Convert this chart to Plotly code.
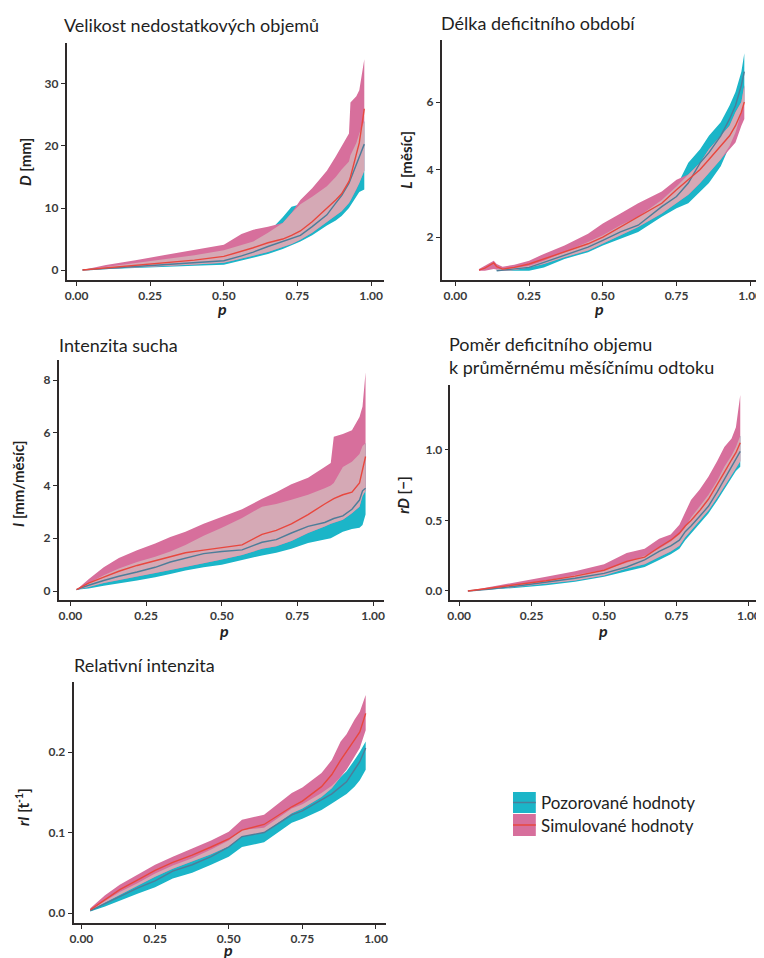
import numpy as np
import plotly.graph_objects as go

nan = np.nan

# ---------------- data ----------------
# Panel 1: D [mm]
p1 = [0.02, 0.1, 0.2, 0.3, 0.4, 0.5, 0.56, 0.6, 0.65, 0.7, 0.73, 0.76, 0.8, 0.85, 0.88, 0.9, 0.925, 0.93, 0.95, 0.96, 0.977]
d_sim_hi = [0.0, 0.8, 1.6, 2.4, 3.2, 4.1, 5.8, 6.5, 7.0, 7.6, 9.2, 11.3, 13.2, 16.0, 18.3, 19.9, 22.0, 27.0, 28.0, 29.0, 34.0]
d_sim_lo = [0.0, 0.15, 0.4, 0.65, 0.9, 1.2, 1.9, 2.3, 2.9, 3.7, 4.2, 4.9, 6.0, 7.8, 8.8, 9.5, 10.8, 11.2, 13.0, 14.0, 16.0]
d_sim_med = [0.0, 0.35, 0.8, 1.2, 1.6, 2.2, 3.0, 3.6, 4.4, 5.0, 5.6, 6.3, 7.8, 9.9, 11.3, 12.3, 14.3, 15.0, 18.5, 20.5, 26.0]
d_obs_hi = [0.0, 0.5, 1.1, 1.7, 2.4, 3.2, 4.0, 4.6, 6.0, 8.5, 10.2, 10.6, 11.8, 13.5, 15.0, 16.2, 17.5, 18.5, 20.5, 22.0, 24.0]
d_obs_lo = [0.0, 0.1, 0.3, 0.5, 0.7, 0.85, 1.5, 2.0, 2.6, 3.4, 4.0, 4.6, 5.6, 7.2, 8.0, 8.7, 10.0, 10.3, 11.8, 12.6, 13.0]
d_obs_med = [0.0, 0.25, 0.6, 0.9, 1.2, 1.5, 2.3, 2.9, 3.8, 4.6, 5.1, 5.6, 7.0, 8.9, 10.8, 12.0, 14.0, 14.6, 16.8, 18.0, 20.3]

# Panel 2: L [month]
p2 = [0.08, 0.1, 0.13, 0.14, 0.16, 0.2, 0.25, 0.3, 0.37, 0.45, 0.5, 0.56, 0.62, 0.7, 0.75, 0.79, 0.83, 0.86, 0.9, 0.93, 0.95, 0.97, 0.98]
l_sim_hi = [1.05, 1.15, 1.3, 1.2, 1.12, 1.18, 1.3, 1.5, 1.75, 2.1, 2.4, 2.7, 3.0, 3.35, 3.7, 3.85, 4.2, 4.6, 5.0, 5.3, 5.7, 6.0, 6.5]
l_sim_lo = [1.0, 1.0, 1.05, 1.02, 1.0, 1.02, 1.1, 1.2, 1.4, 1.6, 1.8, 2.05, 2.3, 2.7, 3.0, 3.25, 3.6, 3.9, 4.3, 4.6, 4.8, 5.3, 5.5]
l_sim_med = [1.02, 1.08, 1.23, 1.12, 1.05, 1.1, 1.2, 1.35, 1.55, 1.8, 2.0, 2.3, 2.6, 3.0, 3.4, 3.7, 4.0, 4.3, 4.7, 5.0, 5.3, 5.7, 6.0]
l_obs_hi = [nan, nan, nan, 1.05, 1.05, 1.08, 1.15, 1.3, 1.55, 1.85, 2.05, 2.35, 2.6, 3.1, 3.5, 4.2, 4.6, 5.0, 5.4, 5.9, 6.3, 6.9, 7.45]
l_obs_lo = [nan, nan, nan, 1.0, 1.0, 1.0, 1.0, 1.1, 1.35, 1.55, 1.75, 1.95, 2.15, 2.6, 2.85, 3.0, 3.35, 3.6, 4.1, 4.7, 5.1, 5.7, 6.0]
l_obs_med = [nan, nan, nan, 1.0, 1.02, 1.05, 1.1, 1.25, 1.45, 1.7, 1.9, 2.15, 2.35, 2.9, 3.2, 3.6, 4.2, 4.5, 5.0, 5.5, 5.9, 6.5, 6.9]

# Panel 3: I [mm/month]
p3 = [0.02, 0.06, 0.11, 0.16, 0.22, 0.28, 0.33, 0.38, 0.44, 0.5, 0.567, 0.633, 0.68, 0.73, 0.785, 0.84, 0.86, 0.87, 0.9, 0.93, 0.955, 0.965, 0.975]
i_sim_hi = [0.05, 0.45, 0.9, 1.25, 1.55, 1.8, 2.05, 2.25, 2.55, 2.8, 3.1, 3.5, 3.75, 4.05, 4.3, 4.7, 4.85, 5.85, 5.95, 6.1, 6.6, 7.0, 8.3]
i_sim_lo = [0.05, 0.15, 0.3, 0.42, 0.55, 0.68, 0.8, 0.92, 1.05, 1.2, 1.37, 1.6, 1.7, 1.9, 2.2, 2.45, 2.55, 2.6, 2.7, 2.95, 3.2, 3.6, 3.8]
i_sim_med = [0.05, 0.3, 0.53, 0.75, 0.97, 1.15, 1.3, 1.45, 1.55, 1.65, 1.75, 2.15, 2.3, 2.55, 2.9, 3.3, 3.45, 3.5, 3.65, 3.75, 4.1, 4.6, 5.1]
i_obs_hi = [0.05, 0.3, 0.6, 0.85, 1.1, 1.3, 1.5, 1.75, 2.1, 2.4, 2.77, 3.2, 3.3, 3.46, 3.65, 3.9, 4.0, 4.1, 4.7, 4.9, 5.2, 5.5, 5.6]
i_obs_lo = [0.05, 0.1, 0.2, 0.3, 0.4, 0.52, 0.65, 0.78, 0.9, 1.0, 1.18, 1.35, 1.45, 1.6, 1.82, 1.95, 2.0, 2.05, 2.25, 2.35, 2.4, 2.5, 2.9]
i_obs_med = [0.05, 0.22, 0.4, 0.56, 0.72, 0.9, 1.1, 1.25, 1.42, 1.5, 1.56, 1.85, 1.95, 2.2, 2.45, 2.6, 2.7, 2.75, 2.85, 3.1, 3.45, 3.8, 3.9]

# Panel 4: rD [-]
p4 = [0.03, 0.1, 0.2, 0.3, 0.4, 0.5, 0.578, 0.64, 0.69, 0.73, 0.76, 0.78, 0.8, 0.83, 0.86, 0.89, 0.915, 0.94, 0.955, 0.97]
rd_sim_hi = [0.0, 0.025, 0.06, 0.1, 0.14, 0.19, 0.27, 0.3, 0.37, 0.4, 0.47, 0.56, 0.645, 0.72, 0.81, 0.92, 1.02, 1.08, 1.16, 1.39]
rd_sim_lo = [0.0, 0.01, 0.03, 0.05, 0.075, 0.11, 0.16, 0.19, 0.24, 0.28, 0.32, 0.38, 0.43, 0.5, 0.57, 0.66, 0.74, 0.82, 0.87, 0.92]
rd_sim_med = [0.0, 0.018, 0.045, 0.072, 0.105, 0.147, 0.21, 0.24, 0.31, 0.36, 0.41, 0.46, 0.5, 0.57, 0.65, 0.75, 0.84, 0.93, 0.98, 1.05]
rd_obs_hi = [0.0, 0.018, 0.045, 0.075, 0.11, 0.15, 0.2, 0.25, 0.3, 0.35, 0.4, 0.45, 0.52, 0.6, 0.68, 0.78, 0.88, 0.96, 1.02, 1.1]
rd_obs_lo = [0.0, 0.008, 0.022, 0.04, 0.065, 0.1, 0.14, 0.17, 0.22, 0.26, 0.3, 0.36, 0.41, 0.48, 0.55, 0.64, 0.72, 0.8, 0.85, 0.88]
rd_obs_med = [0.0, 0.012, 0.035, 0.06, 0.09, 0.125, 0.17, 0.22, 0.28, 0.32, 0.36, 0.42, 0.46, 0.53, 0.6, 0.7, 0.79, 0.88, 0.94, 0.99]

# Panel 5: rI [t^-1]
p5 = [0.03, 0.08, 0.13, 0.19, 0.25, 0.31, 0.376, 0.44, 0.5, 0.545, 0.62, 0.714, 0.75, 0.815, 0.85, 0.88, 0.9, 0.927, 0.945, 0.965]
ri_sim_hi = [0.006, 0.022, 0.035, 0.048, 0.06, 0.07, 0.08, 0.09, 0.101, 0.116, 0.122, 0.149, 0.156, 0.174, 0.19, 0.213, 0.222, 0.24, 0.25, 0.271]
ri_sim_lo = [0.003, 0.013, 0.023, 0.034, 0.045, 0.055, 0.064, 0.073, 0.083, 0.095, 0.1, 0.124, 0.13, 0.144, 0.155, 0.169, 0.178, 0.194, 0.205, 0.227]
ri_sim_med = [0.004, 0.017, 0.029, 0.041, 0.053, 0.063, 0.072, 0.082, 0.092, 0.103, 0.11, 0.132, 0.139, 0.157, 0.172, 0.19, 0.2, 0.215, 0.225, 0.248]
ri_obs_hi = [0.004, 0.015, 0.026, 0.037, 0.049, 0.059, 0.068, 0.079, 0.09, 0.103, 0.106, 0.13, 0.135, 0.149, 0.158, 0.169, 0.176, 0.19, 0.2, 0.213]
ri_obs_lo = [0.002, 0.008, 0.015, 0.024, 0.032, 0.043, 0.05, 0.06, 0.07, 0.082, 0.088, 0.112, 0.117, 0.128, 0.136, 0.143, 0.148, 0.157, 0.165, 0.178]
ri_obs_med = [0.003, 0.012, 0.021, 0.031, 0.04, 0.052, 0.06, 0.07, 0.082, 0.095, 0.1, 0.122, 0.127, 0.14, 0.148, 0.157, 0.163, 0.178, 0.188, 0.205]

titles = ["Velikost nedostatkových objemů", "Délka deficitního období", "Intenzita sucha",
          "Poměr deficitního objemu<br>k průměrnému měsíčnímu odtoku", "Relativní intenzita"]
ylabels = ["<i>D</i> [mm]", "<i>L</i> [měsíc]", "<i>I</i> [mm/měsíc]", "<i>rD</i> [−]", "<i>rI</i> [t<sup>-1</sup>]"]
xlabel = "<i>p</i>"
x_ticks = [0.0, 0.25, 0.5, 0.75, 1.0]
y_ticks = [[0, 10, 20, 30], [2, 4, 6], [0, 2, 4, 6, 8], [0.0, 0.5, 1.0], [0.0, 0.1, 0.2]]
legend_names = ["Pozorované hodnoty", "Simulované hodnoty"]

panels = [
    (p1, d_obs_lo, d_obs_hi, d_obs_med, d_sim_lo, d_sim_hi, d_sim_med),
    (p2, l_obs_lo, l_obs_hi, l_obs_med, l_sim_lo, l_sim_hi, l_sim_med),
    (p3, i_obs_lo, i_obs_hi, i_obs_med, i_sim_lo, i_sim_hi, i_sim_med),
    (p4, rd_obs_lo, rd_obs_hi, rd_obs_med, rd_sim_lo, rd_sim_hi, rd_sim_med),
    (p5, ri_obs_lo, ri_obs_hi, ri_obs_med, ri_sim_lo, ri_sim_hi, ri_sim_med),
]

# ---------------- layout geometry (page pixels) ----------------
OFF = 8            # default body margin of the html page
W, H = 764 - OFF, 958 - OFF

geo = [
    ((63, 383, 43, 280), [-0.034, 1.044], [-1.6, 36.6], ",d"),
    ((441, 764, 40, 280), [-0.047, 1.040], [0.726, 7.84], ",d"),
    ((55, 383, 360, 600), [-0.039, 1.036], [-0.34, 8.76], ",d"),
    ((450, 764, 385, 600), [-0.030, 1.045], [-0.064, 1.46], ".1f"),
    ((70, 385, 682, 923), [-0.027, 1.034], [-0.0124, 0.287], ".1f"),
]
title_pos = [(58, 25), (438, 23), (53, 345), (446, 355), (68, 665)]
ylab_pos = [(21, 162), (405, 160), (14, 484), (402, 495), (18, 807)]
xlab_pos = [(220, 309), (600, 309), (222, 630), (604, 630), (226, 949)]

TEAL = "#1bb5c8"
PINK = "#d76f9c"
MAUVE = "#d5a9b5"
RED = "#e8473e"
BLUE = "#4d7d99"
AXC = "#2e2a2a"
FONT = "Lato"

fig = go.Figure()
layout = dict(width=W, height=H, margin=dict(l=0, r=0, t=0, b=0),
              paper_bgcolor="white", plot_bgcolor="white", showlegend=False,
              font=dict(family=FONT, color="#2b2b2b"))
annotations = []
shapes = []


def fx(px):
    return (px - OFF) / W


def fy(py):
    return 1 - (py - OFF) / H


for k, (data, g) in enumerate(zip(panels, geo)):
    p, olo, ohi, omed, slo, shi, smed = [np.array(a, dtype=float) for a in data]
    (l, r, t, b), xr, yr, fmt = g
    sfx = "" if k == 0 else str(k + 1)
    xa, ya = "x" + sfx, "y" + sfx

    def band(lo, hi, color):
        m = ~(np.isnan(lo) | np.isnan(hi))
        xs = np.concatenate([p[m], p[m][::-1]])
        ys = np.concatenate([hi[m], lo[m][::-1]])
        fig.add_trace(go.Scatter(x=xs, y=ys, fill="toself", fillcolor=color, mode="lines",
                                 line=dict(width=0, color=color), xaxis=xa, yaxis=ya,
                                 hoverinfo="skip"))

    band(olo, ohi, TEAL)
    band(slo, shi, PINK)
    ov_lo = np.maximum(olo, slo)
    ov_hi = np.maximum(np.minimum(ohi, shi), ov_lo)
    band(ov_lo, ov_hi, MAUVE)
    m = ~np.isnan(omed)
    fig.add_trace(go.Scatter(x=p[m], y=omed[m], mode="lines", line=dict(color=BLUE, width=1.4),
                             xaxis=xa, yaxis=ya))
    fig.add_trace(go.Scatter(x=p, y=smed, mode="lines", line=dict(color=RED, width=1.4),
                             xaxis=xa, yaxis=ya))

    common = dict(showline=True, linecolor=AXC, linewidth=1.6, ticks="outside", ticklen=4,
                  tickwidth=1.2, tickcolor=AXC, showgrid=False, zeroline=False, fixedrange=True,
                  ticklabeloverflow="allow",
                  tickfont=dict(family=FONT, size=12, color="#3a3a3a", weight="bold"))
    layout["xaxis" + sfx] = dict(domain=[fx(l), min(fx(r), 1.0)], range=xr, anchor=ya,
                                 tickvals=x_ticks, tickformat=".2f", **common)
    layout["yaxis" + sfx] = dict(domain=[fy(b), fy(t)], range=yr, anchor=xa,
                                 tickvals=y_ticks[k], tickformat=fmt, **common)

    tx, ty = title_pos[k]
    annotations.append(dict(text=titles[k], x=fx(tx), y=fy(ty), xref="paper", yref="paper",
                            xanchor="left", yanchor="middle", showarrow=False, align="left",
                            font=dict(family=FONT, size=18, color="#1f1f1f")))
    yx, yy = ylab_pos[k]
    annotations.append(dict(text=ylabels[k], x=fx(yx), y=fy(yy), xref="paper", yref="paper",
                            xanchor="center", yanchor="middle", textangle=-90, showarrow=False,
                            font=dict(family=FONT, size=15, color="#222222", weight="bold")))
    xx, xy = xlab_pos[k]
    annotations.append(dict(text=xlabel, x=fx(xx), y=fy(xy), xref="paper", yref="paper",
                            xanchor="center", yanchor="middle", showarrow=False,
                            font=dict(family=FONT, size=16, color="#222222", weight="bold")))

# legend (manual)
leg = [(792, 813, TEAL, BLUE), (814, 836, PINK, RED)]
for (y0, y1, fc, lc), name in zip(leg, legend_names):
    shapes.append(dict(type="rect", xref="paper", yref="paper", x0=fx(513), x1=fx(536),
                       y0=fy(y1), y1=fy(y0), fillcolor=fc, line=dict(width=0)))
    shapes.append(dict(type="line", xref="paper", yref="paper", x0=fx(513), x1=fx(536),
                       y0=fy((y0 + y1) / 2), y1=fy((y0 + y1) / 2), line=dict(color=lc, width=1.5)))
    annotations.append(dict(text=name, x=fx(539), y=fy((y0 + y1) / 2), xref="paper", yref="paper",
                            xanchor="left", yanchor="middle", showarrow=False,
                            font=dict(family=FONT, size=17, color="#222222")))

layout["annotations"] = annotations
layout["shapes"] = shapes
fig.update_layout(**layout)
fig.write_html("out.html")
